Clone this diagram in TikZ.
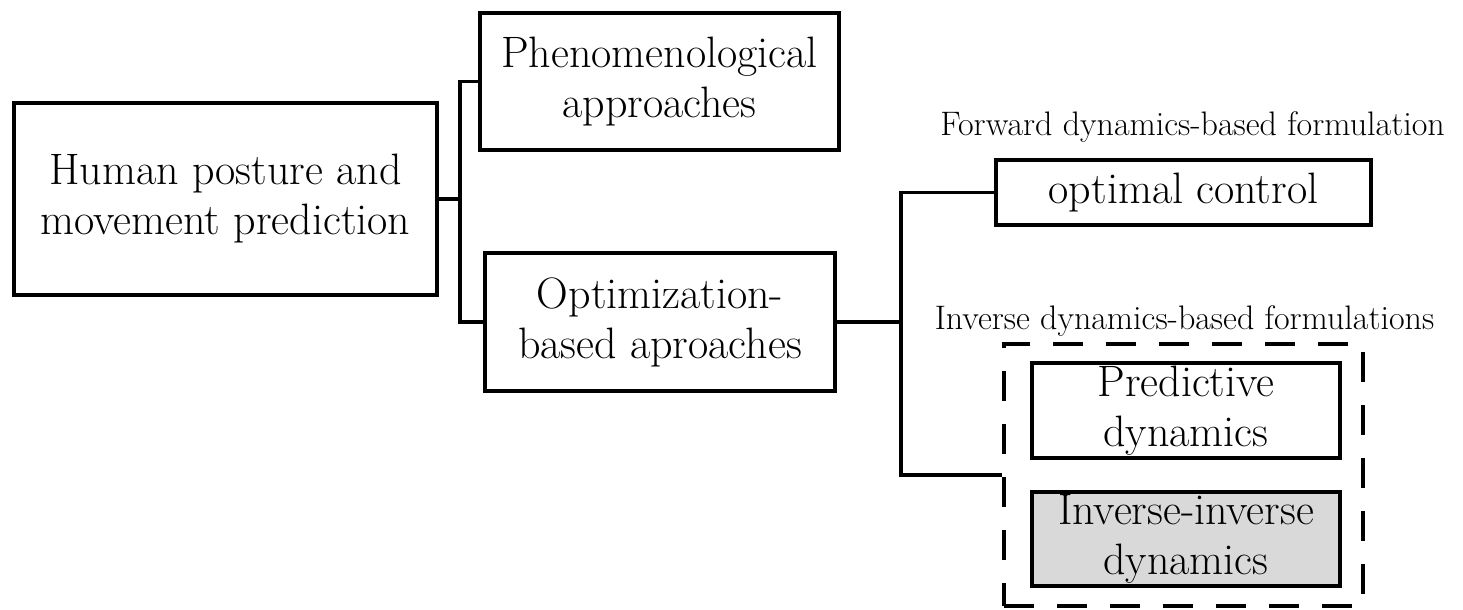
\documentclass[tikz,border=0pt]{standalone}
\usepackage{tikz}
\usetikzlibrary{positioning}
\definecolor{boxgray}{HTML}{D9D9D9}

\begin{document}
\begin{tikzpicture}[
    x=0.5pt, y=-0.5pt,
    block/.style={rectangle, draw=black, line width=1.6pt, align=center, inner sep=0pt, font=\fontsize{22}{25}\selectfont},
    group/.style={rectangle, draw=black, line width=1.6pt, dash pattern=on 15pt off 11.5pt, inner sep=0pt},
    caption/.style={font=\fontsize{17}{20}\selectfont},
    link/.style={line width=1.6pt}
]
    \useasboundingbox (0,0) rectangle (1463,610);

    \node[block, minimum width=211.5pt, minimum height=96pt] (human) at (225.5,199) {Human posture and\\movement prediction};
    \node[block, minimum width=179.5pt, minimum height=68.5pt] (phenom) at (659.5,81.5) {Phenomenological\\approaches};
    \node[block, minimum width=175pt, minimum height=69pt] (optim) at (660,322) {Optimization-\\based aproaches};
    \node[block, minimum width=187.5pt, minimum height=32.5pt] (control) at (1183.5,192.5) {optimal control};

    % inverse dynamics group
    \node[group, minimum width=179.5pt, minimum height=131pt] (inverse) at (1183.5,475) {};
    \node[block, minimum width=154pt, minimum height=47.5pt] (predictive) at (1186,410.5) {Predictive\\dynamics};
    \node[block, fill=boxgray, minimum width=154pt, minimum height=47pt] (invinv) at (1186,539) {Inverse-inverse\\dynamics};

    \node[caption] (fwdlabel) at (1192.5,127) {Forward dynamics-based formulation};
    \node[caption] (invlabel) at (1184.5,321) {Inverse dynamics-based formulations};

    \coordinate (split1) at (460,199);
    \coordinate (split2) at (901,322);

    \draw[link] (human.east) -- (split1);
    \draw[link] (phenom.west) -| (split1) |- (optim.west);
    \draw[link] (optim.east) -- (split2);
    \draw[link] (control.west) -| (split2) |- (inverse.west);
\end{tikzpicture}
\end{document}
